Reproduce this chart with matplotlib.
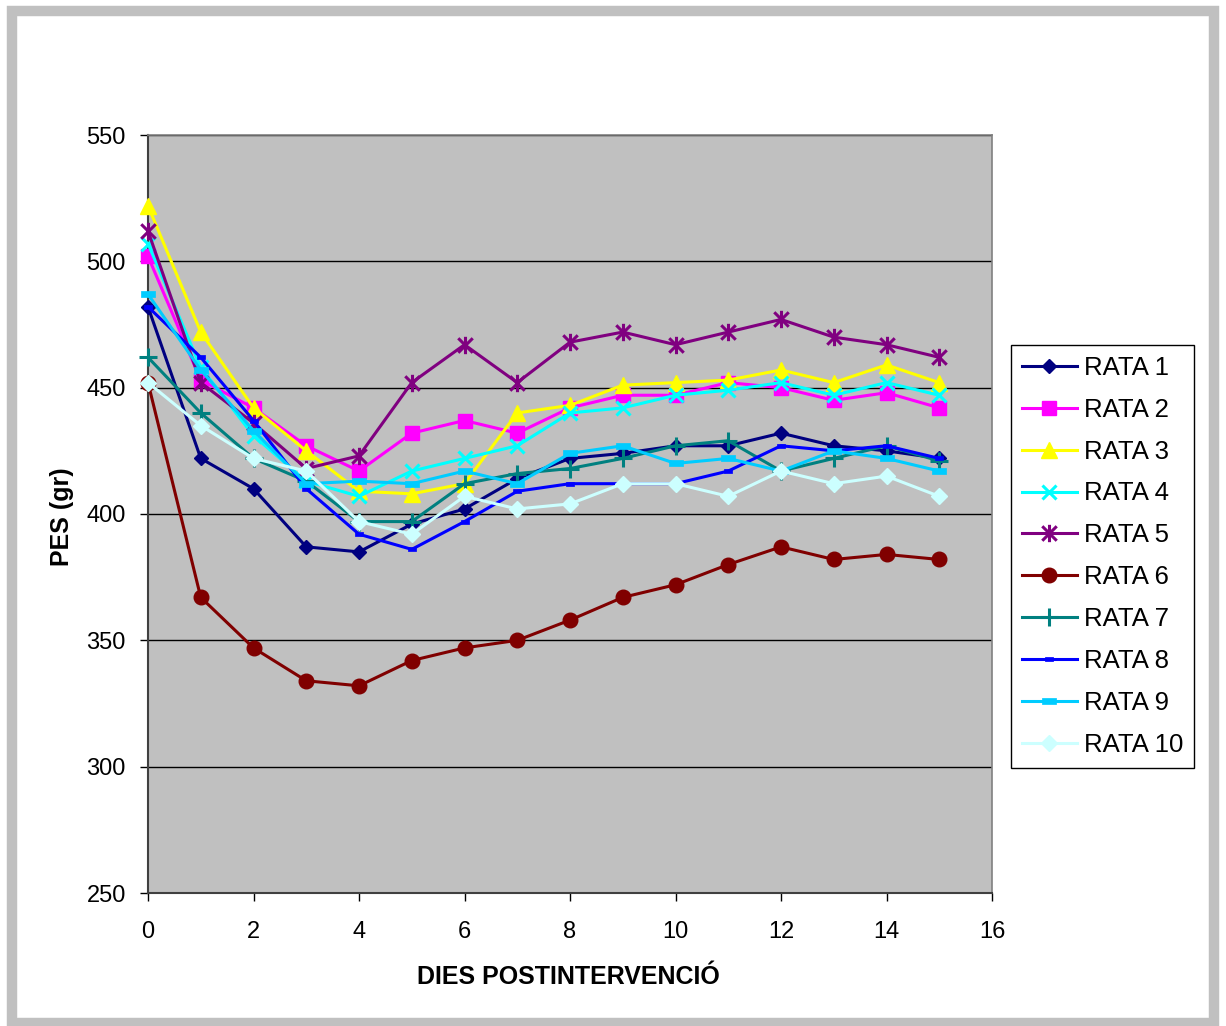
import matplotlib
matplotlib.use("Agg")
import matplotlib.pyplot as plt
from matplotlib.path import Path
from matplotlib.patches import Rectangle

plt.rcParams['font.family'] = ['Liberation Sans', 'DejaVu Sans']

days = list(range(16))
series_names = ["RATA 1", "RATA 2", "RATA 3", "RATA 4", "RATA 5",
                "RATA 6", "RATA 7", "RATA 8", "RATA 9", "RATA 10"]
rata1 = [482, 422, 410, 387, 385, 396, 402, 414, 422, 424, 427, 427, 432, 427, 425, 422]
rata2 = [502, 453, 442, 427, 417, 432, 437, 432, 442, 447, 447, 452, 450, 445, 448, 442]
rata3 = [522, 472, 442, 425, 409, 408, 412, 440, 443, 451, 452, 453, 457, 452, 459, 452]
rata4 = [507, 458, 431, 413, 407, 417, 422, 427, 440, 442, 447, 449, 452, 447, 452, 447]
rata5 = [512, 452, 436, 418, 423, 452, 467, 452, 468, 472, 467, 472, 477, 470, 467, 462]
rata6 = [452, 367, 347, 334, 332, 342, 347, 350, 358, 367, 372, 380, 387, 382, 384, 382]
rata7 = [462, 440, 422, 413, 397, 397, 412, 416, 418, 422, 427, 429, 417, 422, 427, 421]
rata8 = [482, 462, 437, 410, 392, 386, 397, 409, 412, 412, 412, 417, 427, 425, 427, 422]
rata9 = [487, 457, 433, 412, 413, 412, 417, 412, 424, 427, 420, 422, 417, 425, 422, 417]
rata10 = [452, 435, 422, 417, 397, 392, 407, 402, 404, 412, 412, 407, 417, 412, 415, 407]
all_series = [rata1, rata2, rata3, rata4, rata5, rata6, rata7, rata8, rata9, rata10]

colors = ["#000080", "#FF00FF", "#FFFF00", "#00FFFF", "#800080",
          "#800000", "#008080", "#0000FF", "#00CCFF", "#CCFFFF"]

# custom markers
star = Path([(-0.5, -0.5), (0.5, 0.5), (-0.5, 0.5), (0.5, -0.5), (0, -0.6), (0, 0.6)],
            [Path.MOVETO, Path.LINETO, Path.MOVETO, Path.LINETO, Path.MOVETO, Path.LINETO])
dash_small = Path([(-1, -0.5), (1, -0.5), (1, 0.5), (-1, 0.5), (-1, -0.5)],
                  [Path.MOVETO, Path.LINETO, Path.LINETO, Path.LINETO, Path.CLOSEPOLY])
dash_big = Path([(-1, -0.38), (1, -0.38), (1, 0.38), (-1, 0.38), (-1, -0.38)],
                [Path.MOVETO, Path.LINETO, Path.LINETO, Path.LINETO, Path.CLOSEPOLY])

styles = [
    dict(marker='D', ms=7.5, mew=1),
    dict(marker='s', ms=10.5, mew=1),
    dict(marker='^', ms=11.5, mew=1),
    dict(marker='x', ms=10.5, mew=2.2),
    dict(marker=star, ms=12.5, mew=2.2),
    dict(marker='o', ms=10.5, mew=1),
    dict(marker='+', ms=12.5, mew=2.2),
    dict(marker=dash_small, ms=6, mew=0.5),
    dict(marker=dash_big, ms=10, mew=0.5),
    dict(marker='D', ms=8, mew=1),
]

W, H = 1226, 1026
fig = plt.figure(figsize=(W / 100, H / 100), dpi=100)
fig.patch.set_facecolor('white')

left, right, top, bottom = 148, 992, 135, 893
ax = fig.add_axes([left / W, 1 - bottom / H, (right - left) / W, (bottom - top) / H])
ax.set_facecolor('#C0C0C0')

for name, vals, col, st in zip(series_names, all_series, colors, styles):
    ax.plot(days, vals, color=col, lw=2.2, marker=st['marker'], markersize=st['ms'],
            markerfacecolor=col, markeredgecolor=col, markeredgewidth=st['mew'],
            label=name, clip_on=False, zorder=3)

ax.set_xlim(0, 16)
ax.set_ylim(250, 550)
ax.set_xticks(range(0, 17, 2))
ax.set_yticks(range(250, 551, 50))
ax.yaxis.grid(True, color='black', lw=1.0)
ax.set_axisbelow(True)

for s in ['left', 'bottom']:
    ax.spines[s].set_color('#404040')
    ax.spines[s].set_linewidth(1.5)
for s in ['top', 'right']:
    ax.spines[s].set_color('#808080')
    ax.spines[s].set_linewidth(1.2)

ax.tick_params(axis='both', direction='out', length=6, width=1, color='black',
               labelsize=17, labelcolor='black')
ax.tick_params(axis='x', pad=14)
ax.tick_params(axis='y', pad=10)

ax.set_xlabel("DIES POSTINTERVENCIÓ", fontsize=18, fontweight='bold')
ax.set_ylabel("PES (gr)", fontsize=18, fontweight='bold')
ax.xaxis.label.set_verticalalignment('center')
ax.yaxis.label.set_verticalalignment('center')
ax.xaxis.set_label_coords(0.498, (bottom - 977) / (bottom - top))
ax.yaxis.set_label_coords((62 - left) / (right - left), 0.497)

leg = fig.legend(loc='upper left', bbox_to_anchor=(1011 / W, 1 - 345 / H),
                 bbox_transform=fig.transFigure, borderaxespad=0,
                 fontsize=18.5, frameon=True, fancybox=False, edgecolor='black',
                 framealpha=1, handlelength=2.15, handletextpad=0.28,
                 labelspacing=0.70, borderpad=0.41)
leg.get_frame().set_linewidth(1.0)

# outer grey frame
x0, y0, x1, y1 = 11.5, 11, 1214, 1023
fig.patches.append(Rectangle((x0 / W, 1 - y1 / H), (x1 - x0) / W, (y1 - y0) / H,
                             transform=fig.transFigure, fill=False,
                             edgecolor='#C0C0C0', linewidth=7.5))

fig.savefig("out.png", dpi=100, facecolor='white')
